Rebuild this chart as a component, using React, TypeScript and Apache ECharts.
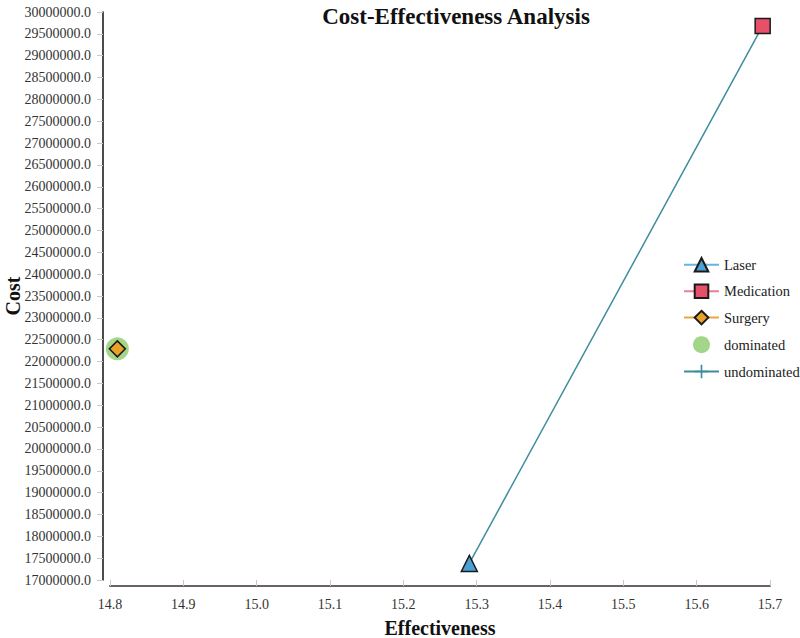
import React, { useEffect, useRef } from "react";
import * as echarts from "echarts";

const strategies = ["Laser", "Medication", "Surgery"];
const effectiveness = [15.29, 15.69, 14.81];
const costs = [17380000, 29680000, 22290000];
const dominated = ["Surgery"];
const undominated = ["Laser", "Medication"];
const xTicks = { min: 14.8, max: 15.7, step: 0.1 };
const yTicks = { min: 17000000, max: 30000000, step: 500000 };

const FONT = "'Liberation Serif', 'Times New Roman', serif";

const styles: Record<string, { symbol: string; size: number; fill: string; line: string }> = {
  Laser: { symbol: "triangle", size: 16, fill: "#4a9fd6", line: "#6ab2e0" },
  Medication: { symbol: "rect", size: 15, fill: "#e8506a", line: "#e88090" },
  Surgery: { symbol: "diamond", size: 16, fill: "#e8a22a", line: "#e8a840" },
};

const PLUS = "path://M4.4,0h1.2v4.4h4.4v1.2h-4.4v4.4h-1.2v-4.4h-4.4v-1.2h4.4z";

export default function App() {
  const ref = useRef<HTMLDivElement>(null);
  useEffect(() => {
    if (!ref.current) return;
    const chart = echarts.init(ref.current, undefined, { renderer: "svg" });
    const pt = (name: string) => {
      const i = strategies.indexOf(name);
      return [effectiveness[i], costs[i]];
    };
    const stratSeries = strategies.map((s) => ({
      name: s,
      type: "line" as const,
      data: [pt(s)],
      symbol: styles[s].symbol,
      symbolSize: styles[s].size,
      itemStyle: { color: styles[s].fill, borderColor: "#1a1a1a", borderWidth: 1.5 },
      lineStyle: { color: styles[s].line, width: 1.2 },
      z: 5,
    }));
    chart.setOption({
      animation: false,
      backgroundColor: "#ffffff",
      textStyle: { fontFamily: FONT },
      title: {
        text: "Cost-Effectiveness Analysis",
        left: 451,
        textAlign: "center",
        top: 0,
        textStyle: { fontFamily: FONT, fontSize: 23, fontWeight: "bold", color: "#111" },
      },
      grid: { left: 110, right: 30, top: 12, bottom: 58, outerBoundsMode: "none" },
      legend: {
        orient: "vertical",
        left: 678,
        top: 252,
        itemWidth: 35,
        itemHeight: 17,
        itemGap: 10.8,
        data: [...strategies, "dominated", "undominated"],
        textStyle: { fontFamily: FONT, fontSize: 14.5, color: "#222" },
      },
      xAxis: {
        type: "value",
        min: xTicks.min,
        max: xTicks.max,
        interval: xTicks.step,
        offset: 6,
        name: "Effectiveness",
        nameLocation: "middle",
        nameGap: 32,
        nameMoveOverlap: false,
        nameTextStyle: { fontFamily: FONT, fontSize: 20, fontWeight: "bold", color: "#111" },
        axisLine: { lineStyle: { color: "#6a6360", width: 2 } },
        axisTick: { inside: true, length: 6, lineStyle: { color: "#c8c8c8" } },
        axisLabel: {
          fontFamily: FONT,
          fontSize: 14,
          color: "#333",
          margin: 11,
          formatter: (v: number) => v.toFixed(1),
        },
        splitLine: { show: false },
      },
      yAxis: {
        type: "value",
        min: yTicks.min,
        max: yTicks.max,
        interval: yTicks.step,
        offset: 7,
        name: "Cost",
        nameLocation: "middle",
        nameGap: 80,
        nameMoveOverlap: false,
        nameRotate: 90,
        nameTextStyle: { fontFamily: FONT, fontSize: 20, fontWeight: "bold", color: "#111" },
        axisLine: { lineStyle: { color: "#111", width: 1.5 } },
        axisTick: { length: 6, lineStyle: { color: "#c8c8c8" } },
        axisLabel: {
          fontFamily: FONT,
          fontSize: 14,
          color: "#333",
          margin: 12,
          formatter: (v: number) => v.toFixed(1),
        },
        splitLine: { show: false },
      },
      series: [
        {
          name: "undominated",
          type: "line",
          data: undominated.map(pt),
          symbol: PLUS,
          symbolSize: 14,
          showSymbol: false,
          itemStyle: { color: "#3d8d9c" },
          lineStyle: { color: "#3d8d9c", width: 1.5 },
          z: 2,
        },
        {
          name: "dominated",
          type: "scatter",
          data: dominated.map(pt),
          symbol: "circle",
          symbolSize: 23,
          itemStyle: { color: "#8ccc6a" },
          z: 3,
        },
        ...stratSeries,
      ],
    });
    return () => chart.dispose();
  }, []);
  return <div ref={ref} style={{ width: 800, height: 638, position: "absolute", left: 0, top: 0 }} />;
}
